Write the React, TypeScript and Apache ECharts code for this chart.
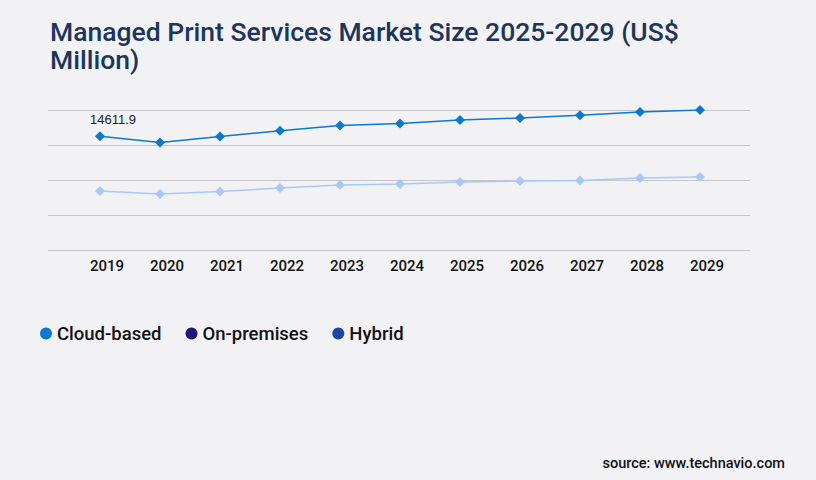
import React, { useEffect, useRef } from 'react'
import * as echarts from 'echarts'

const years = ['2019', '2020', '2021', '2022', '2023', '2024', '2025', '2026', '2027', '2028', '2029']

const cloudBased = [14611.9, 13830, 14600, 15340, 16020, 16280, 16710, 16970, 17310, 17740, 18000]
const onPremises = [7590, 7200, 7530, 7970, 8360, 8490, 8740, 8870, 8950, 9260, 9390]
const hybrid: number[] = []

const legendNames = ['Cloud-based', 'On-premises', 'Hybrid']
const legendColors = ['#0a78d4', '#1a1a7e', '#1c45a8']

const yMin = 0
const yMax = 18000
const yStep = 4500

export default function App() {
  const chartRef = useRef<HTMLDivElement>(null)

  useEffect(() => {
    if (!chartRef.current) {
      return
    }
    const chart = echarts.init(chartRef.current, null, { renderer: 'svg' })

    const option = {
      animation: false,
      backgroundColor: '#f2f2f4',
      title: {
        text: 'Managed Print Services Market Size 2025-2029 (US$\nMillion)',
        left: 50,
        top: 17,
        padding: 0,
        textStyle: {
          fontFamily: 'Roboto',
          fontSize: 26.5,
          fontWeight: 500,
          lineHeight: 28,
          color: '#1b355e'
        }
      },
      legend: {
        left: 40,
        top: 324,
        padding: 0,
        icon: 'circle',
        itemWidth: 12,
        itemHeight: 12,
        itemGap: 24,
        textStyle: {
          fontFamily: 'Roboto',
          fontSize: 18.5,
          fontWeight: 500,
          color: '#111111'
        },
        data: legendNames.map((name, i) => ({
          name,
          itemStyle: { color: legendColors[i] }
        }))
      },
      grid: [
        { left: 48, right: 66, top: 110, bottom: 230 },
        { left: 100, right: 116, top: 110, bottom: 230 }
      ],
      xAxis: [
        {
          type: 'category',
          gridIndex: 0,
          show: false,
          data: years
        },
        {
          type: 'category',
          gridIndex: 1,
          boundaryGap: false,
          data: years,
          axisLine: { show: false },
          axisTick: { show: false },
          axisLabel: {
            margin: 8,
            padding: [0, 0, 0, 14],
            fontFamily: 'Roboto',
            fontSize: 15,
            fontWeight: 500,
            color: '#111111'
          }
        }
      ],
      yAxis: [
        {
          type: 'value',
          gridIndex: 0,
          min: yMin,
          max: yMax,
          interval: yStep,
          axisLine: { show: false },
          axisTick: { show: false },
          axisLabel: { show: false },
          splitLine: {
            lineStyle: { color: '#c6c6c8', width: 1 }
          }
        },
        {
          type: 'value',
          gridIndex: 1,
          min: yMin,
          max: yMax,
          interval: yStep,
          show: false,
          splitLine: { show: false }
        }
      ],
      series: [
        {
          name: 'Cloud-based',
          type: 'line',
          xAxisIndex: 1,
          yAxisIndex: 1,
          symbol: 'diamond',
          symbolSize: 10,
          data: cloudBased.map((v, i) =>
            i === 0
              ? {
                  value: v,
                  label: {
                    show: true,
                    position: 'top',
                    offset: [13, 0],
                    fontFamily: 'Liberation Sans',
                    fontSize: 13,
                    color: '#222222',
                    formatter: (p: any) => p.value.toFixed(1)
                  }
                }
              : v
          ),
          lineStyle: { color: '#0a78d4', width: 1.5 },
          itemStyle: { color: '#0a78d4' }
        },
        {
          name: 'On-premises',
          type: 'line',
          xAxisIndex: 1,
          yAxisIndex: 1,
          symbol: 'diamond',
          symbolSize: 10,
          data: onPremises,
          lineStyle: { color: '#a8c8fa', width: 1.5 },
          itemStyle: { color: '#a8c8fa' }
        },
        {
          name: 'Hybrid',
          type: 'line',
          xAxisIndex: 1,
          yAxisIndex: 1,
          symbol: 'diamond',
          data: hybrid,
          itemStyle: { color: '#1c45a8' }
        }
      ],
      graphic: [
        {
          type: 'text',
          right: 31,
          top: 456,
          style: {
            text: 'source: www.technavio.com',
            fontFamily: 'Roboto',
            fontSize: 14.5,
            fontWeight: 500,
            fill: '#111111'
          }
        }
      ]
    }

    chart.setOption(option)

    return () => {
      chart.dispose()
    }
  }, [])

  return (
    <div style={{ position: 'absolute', left: 0, top: 0, width: 816, height: 480 }}>
      <div ref={chartRef} style={{ width: '100%', height: '100%' }} />
    </div>
  )
}
